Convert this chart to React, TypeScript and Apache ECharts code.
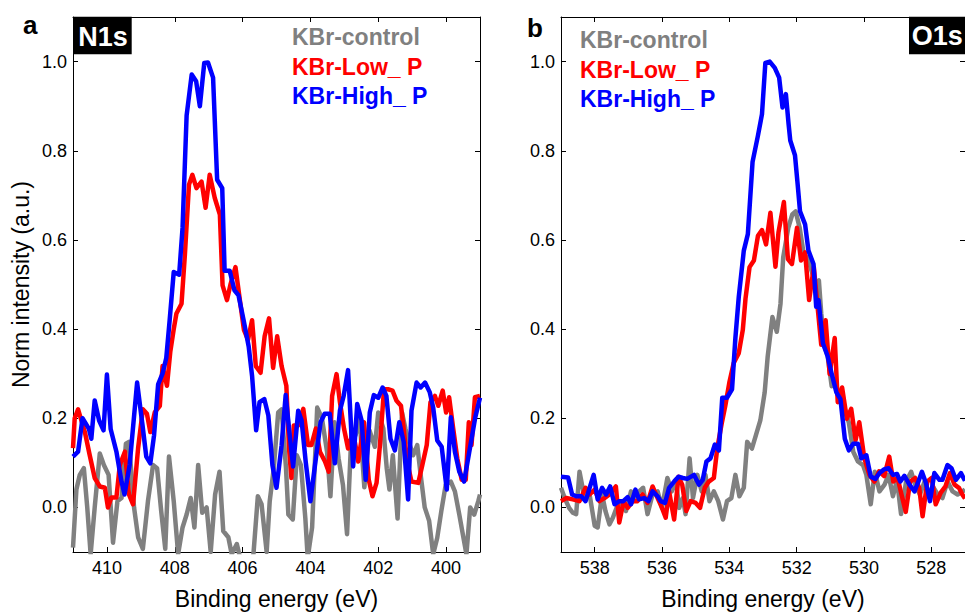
import React, { useEffect, useRef } from "react";
import * as echarts from "echarts";

type Pt = [number, number];

// ---------- N1s panel (binding energy eV, normalised intensity) ----------
const n1sControl: Pt[] = [
  [411.0, -0.09], [410.9, 0.04], [410.8, 0.073], [410.68, 0.088], [410.58, 0.0], [410.48, -0.105],
  [410.36, 0.0], [410.21, 0.121], [410.09, 0.095], [409.95, 0.073], [409.82, -0.079], [409.69, 0.014],
  [409.57, 0.021], [409.44, 0.143], [409.35, 0.147], [409.2, 0.0], [409.08, -0.067], [408.94, -0.093],
  [408.79, 0.014], [408.64, 0.095], [408.52, 0.088], [408.4, -0.008], [408.28, -0.093], [408.17, 0.114],
  [408.03, 0.014], [407.9, -0.105], [407.77, -0.045], [407.65, -0.016], [407.53, 0.021], [407.42, -0.045],
  [407.31, 0.095], [407.19, -0.012], [407.06, 0.0], [406.94, -0.1], [406.81, 0.029], [406.68, 0.08],
  [406.57, -0.053], [406.42, -0.067], [406.32, -0.105], [406.17, -0.082], [406.05, -0.12], [405.9, -0.15],
  [405.8, -0.13], [405.68, -0.105], [405.55, 0.025], [405.44, 0.007], [405.29, -0.1], [405.2, 0.014],
  [405.08, 0.088], [404.95, 0.213], [404.85, 0.22], [404.72, 0.088], [404.65, -0.016], [404.52, -0.027],
  [404.4, 0.117], [404.28, 0.095], [404.15, -0.024], [404.08, -0.113], [403.95, -0.045], [403.8, 0.224],
  [403.66, 0.2], [403.51, 0.125], [403.41, 0.025], [403.29, 0.191], [403.17, 0.11], [403.04, 0.05],
  [402.92, -0.06], [402.79, 0.169], [402.67, 0.162], [402.55, 0.2], [402.41, 0.045], [402.26, 0.173],
  [402.1, 0.136], [402.0, 0.213], [401.85, 0.177], [401.75, 0.088], [401.67, 0.04], [401.57, 0.117],
  [401.43, -0.025], [401.3, 0.213], [401.2, 0.177], [401.07, 0.14], [400.97, 0.117], [400.85, 0.14],
  [400.75, 0.073], [400.63, 0.0], [400.5, -0.03], [400.38, -0.105], [400.26, -0.068], [400.14, -0.008],
  [400.01, 0.051], [399.86, 0.058], [399.74, 0.036], [399.61, -0.016], [399.49, -0.067], [399.4, -0.105],
  [399.29, 0.0], [399.17, -0.016], [399.05, 0.014], [399.0, 0.029],
];

const n1sLow: Pt[] = [
  [411.0, 0.133], [410.95, 0.2], [410.85, 0.22], [410.65, 0.169], [410.51, 0.118], [410.36, 0.066],
  [410.21, 0.047], [410.06, 0.044], [409.97, 0.0], [409.87, 0.022], [409.72, 0.022], [409.62, 0.095],
  [409.47, 0.125], [409.35, 0.029], [409.23, 0.007], [409.08, 0.133], [408.94, 0.22], [408.82, 0.21],
  [408.72, 0.169], [408.59, 0.213], [408.44, 0.228], [408.36, 0.317], [408.23, 0.273], [408.13, 0.35],
  [408.03, 0.4], [407.95, 0.435], [407.8, 0.457], [407.7, 0.568], [407.58, 0.724], [407.48, 0.746],
  [407.36, 0.716], [407.21, 0.731], [407.09, 0.672], [406.97, 0.746], [406.82, 0.694], [406.67, 0.657],
  [406.59, 0.498], [406.46, 0.465], [406.35, 0.502], [406.21, 0.539], [406.08, 0.465], [405.96, 0.398],
  [405.84, 0.376], [405.72, 0.42], [405.61, 0.317], [405.47, 0.302], [405.35, 0.384], [405.22, 0.424],
  [405.1, 0.313], [404.98, 0.384], [404.85, 0.317], [404.71, 0.273], [404.63, 0.132], [404.56, 0.066],
  [404.49, 0.184], [404.36, 0.184], [404.21, 0.221], [404.07, 0.14], [403.97, 0.14], [403.84, 0.177],
  [403.72, 0.125], [403.57, 0.103], [403.46, 0.08], [403.36, 0.25], [403.23, 0.299], [403.13, 0.236],
  [403.01, 0.177], [402.89, 0.132], [402.74, 0.169], [402.59, 0.103], [402.42, 0.191], [402.28, 0.062],
  [402.17, 0.025], [402.05, 0.055], [401.95, 0.14], [401.83, 0.265], [401.71, 0.265], [401.58, 0.262],
  [401.46, 0.239], [401.33, 0.228], [401.26, 0.184], [401.15, 0.103], [401.02, 0.058], [400.82, 0.055],
  [400.7, 0.095], [400.57, 0.14], [400.46, 0.236], [400.33, 0.25], [400.23, 0.228], [400.1, 0.262],
  [400.0, 0.213], [399.91, 0.247], [399.79, 0.177], [399.67, 0.11], [399.54, 0.062], [399.42, 0.062],
  [399.33, 0.191], [399.25, 0.14], [399.15, 0.247], [399.0, 0.25],
];

const n1sHigh: Pt[] = [
  [411.0, 0.114], [410.85, 0.125], [410.72, 0.2], [410.53, 0.176], [410.46, 0.154], [410.36, 0.24],
  [410.23, 0.195], [410.1, 0.173], [410.0, 0.298], [409.89, 0.176], [409.72, 0.125], [409.57, 0.058],
  [409.48, 0.029], [409.33, 0.095], [409.11, 0.28], [408.95, 0.184], [408.84, 0.114], [408.72, 0.099],
  [408.61, 0.162], [408.49, 0.276], [408.36, 0.3], [408.25, 0.335], [408.15, 0.42], [408.03, 0.528],
  [407.87, 0.522], [407.77, 0.627], [407.65, 0.879], [407.5, 0.971], [407.37, 0.956], [407.26, 0.9],
  [407.13, 0.997], [407.02, 0.998], [406.87, 0.964], [406.75, 0.735], [406.6, 0.716], [406.53, 0.531],
  [406.38, 0.531], [406.24, 0.487], [406.12, 0.476], [405.97, 0.42], [405.82, 0.361], [405.72, 0.295],
  [405.6, 0.173], [405.5, 0.236], [405.36, 0.243], [405.24, 0.206], [405.12, 0.095], [405.0, 0.044],
  [404.85, 0.139], [404.73, 0.252], [404.61, 0.162], [404.51, 0.092], [404.36, 0.217], [404.26, 0.195],
  [404.14, 0.103], [404.0, 0.014], [403.84, 0.11], [403.7, 0.191], [403.58, 0.21], [403.43, 0.21],
  [403.28, 0.099], [403.13, 0.217], [403.02, 0.25], [402.89, 0.308], [402.74, 0.092], [402.62, 0.232],
  [402.49, 0.195], [402.37, 0.062], [402.25, 0.213], [402.13, 0.252], [402.0, 0.246], [401.87, 0.269],
  [401.76, 0.25], [401.64, 0.154], [401.51, 0.128], [401.38, 0.191], [401.25, 0.147], [401.12, 0.018],
  [401.02, 0.217], [400.87, 0.28], [400.75, 0.269], [400.62, 0.28], [400.48, 0.258], [400.38, 0.224],
  [400.26, 0.15], [400.13, 0.136], [399.98, 0.04], [399.86, 0.202], [399.74, 0.125], [399.61, 0.08],
  [399.47, 0.058], [399.29, 0.136], [399.14, 0.202], [399.0, 0.246],
];

// ---------- O1s panel ----------
const o1sControl: Pt[] = [
  [539.0, 0.044], [538.89, 0.021], [538.76, -0.001], [538.65, -0.012], [538.55, -0.015], [538.45, 0.08],
  [538.3, 0.021], [538.15, 0.029], [538.0, -0.041], [537.91, -0.045], [537.78, 0.029], [537.68, -0.008],
  [537.56, -0.038], [537.46, -0.023], [537.35, -0.001], [537.22, 0.01], [537.07, -0.008], [536.92, 0.036],
  [536.79, 0.021], [536.68, 0.036], [536.56, 0.044], [536.43, -0.015], [536.28, 0.029], [536.13, 0.036],
  [536.0, -0.001], [535.84, 0.066], [535.71, 0.036], [535.59, 0.062], [535.49, -0.001], [535.38, 0.021],
  [535.3, -0.015], [535.18, 0.11], [535.08, 0.021], [534.95, 0.073], [534.82, 0.036], [534.71, 0.073],
  [534.59, 0.014], [534.46, 0.036], [534.33, 0.014], [534.19, -0.027], [534.07, 0.014], [533.94, 0.021],
  [533.82, 0.073], [533.7, 0.025], [533.57, 0.044], [533.47, 0.147], [533.33, 0.132], [533.21, 0.162],
  [533.08, 0.195], [532.95, 0.258], [532.86, 0.339], [532.72, 0.427], [532.59, 0.394], [532.48, 0.457],
  [532.4, 0.561], [532.25, 0.627], [532.13, 0.657], [532.03, 0.664], [531.91, 0.627], [531.79, 0.568],
  [531.66, 0.557], [531.56, 0.531], [531.44, 0.502], [531.34, 0.509], [531.27, 0.435], [531.17, 0.361],
  [531.08, 0.34], [530.96, 0.272], [530.88, 0.287], [530.77, 0.25], [530.67, 0.24], [530.57, 0.22],
  [530.45, 0.19], [530.32, 0.125], [530.18, 0.103], [530.03, 0.095], [529.93, 0.073], [529.8, 0.007],
  [529.68, 0.08], [529.54, 0.036], [529.39, 0.051], [529.27, 0.073], [529.14, 0.025], [529.02, 0.062],
  [528.9, -0.015], [528.75, 0.058], [528.6, 0.08], [528.48, 0.051], [528.34, 0.029], [528.2, 0.058],
  [528.05, 0.029], [527.93, 0.044], [527.81, 0.029], [527.67, 0.021], [527.52, 0.058], [527.37, 0.036],
  [527.22, 0.029], [527.07, 0.036], [527.0, 0.04],
];

const o1sLow: Pt[] = [
  [539.0, 0.014], [538.84, 0.021], [538.65, 0.018], [538.45, 0.014], [538.27, 0.044], [538.15, 0.029],
  [538.0, 0.04], [537.86, 0.014], [537.71, 0.021], [537.56, 0.029], [537.37, 0.047], [537.27, -0.034],
  [537.14, 0.014], [537.02, -0.001], [536.87, 0.014], [536.73, 0.014], [536.58, 0.029], [536.43, 0.01],
  [536.28, 0.047], [536.13, 0.021], [536.0, -0.001], [535.89, -0.023], [535.79, 0.036], [535.64, -0.027],
  [535.51, 0.069], [535.4, 0.051], [535.28, -0.008], [535.15, 0.014], [535.0, 0.01], [534.87, -0.001],
  [534.73, 0.044], [534.61, 0.058], [534.46, 0.066], [534.36, 0.132], [534.23, 0.187], [534.12, 0.228],
  [534.0, 0.28], [533.87, 0.324], [533.72, 0.346], [533.6, 0.398], [533.52, 0.468], [533.4, 0.539],
  [533.27, 0.554], [533.15, 0.609], [533.03, 0.622], [532.91, 0.59], [532.78, 0.661], [532.63, 0.54],
  [532.54, 0.617], [532.38, 0.685], [532.26, 0.557], [532.14, 0.546], [531.99, 0.627], [531.87, 0.554],
  [531.75, 0.572], [531.63, 0.465], [531.49, 0.539], [531.37, 0.443], [531.27, 0.365], [531.14, 0.42],
  [531.02, 0.299], [530.87, 0.38], [530.78, 0.236], [530.65, 0.269], [530.51, 0.199], [530.38, 0.221],
  [530.25, 0.151], [530.14, 0.191], [529.99, 0.11], [529.84, 0.073], [529.69, 0.058], [529.55, 0.081],
  [529.4, 0.07], [529.25, 0.114], [529.13, 0.058], [529.0, 0.066], [528.89, 0.03], [528.76, -0.01],
  [528.63, 0.058], [528.48, 0.066], [528.36, 0.044], [528.26, -0.02], [528.12, 0.058], [527.99, 0.066],
  [527.87, 0.007], [527.72, 0.033], [527.58, 0.047], [527.45, 0.077], [527.31, 0.051], [527.18, 0.044],
  [527.08, 0.029], [527.0, 0.02],
];

const o1sHigh: Pt[] = [
  [539.0, 0.069], [538.79, 0.067], [538.67, 0.029], [538.55, 0.025], [538.4, 0.025], [538.27, 0.014],
  [538.15, 0.044], [538.03, 0.073], [537.91, 0.018], [537.78, 0.044], [537.66, 0.029], [537.54, 0.047],
  [537.41, 0.007], [537.27, 0.014], [537.15, 0.014], [537.02, 0.023], [536.92, 0.007], [536.79, 0.04],
  [536.68, 0.018], [536.53, 0.021], [536.4, 0.014], [536.28, 0.036], [536.13, 0.025], [536.04, 0.014],
  [535.91, 0.01], [535.79, 0.044], [535.64, 0.058], [535.51, 0.069], [535.38, 0.066], [535.25, 0.064],
  [535.05, 0.073], [534.9, 0.051], [534.79, 0.062], [534.68, 0.103], [534.56, 0.11], [534.43, 0.141],
  [534.31, 0.128], [534.21, 0.246], [534.07, 0.246], [533.92, 0.265], [533.82, 0.38], [533.72, 0.472],
  [533.57, 0.576], [533.45, 0.613], [533.31, 0.775], [533.15, 0.834], [533.03, 0.882], [532.93, 0.997],
  [532.8, 1.0], [532.65, 0.986], [532.52, 0.964], [532.42, 0.897], [532.32, 0.927], [532.24, 0.86],
  [532.19, 0.823], [532.05, 0.79], [531.97, 0.724], [531.9, 0.664], [531.75, 0.635], [531.65, 0.576],
  [531.5, 0.546], [531.42, 0.45], [531.35, 0.465], [531.22, 0.368], [531.08, 0.339], [530.96, 0.3],
  [530.82, 0.258], [530.7, 0.243], [530.57, 0.154], [530.45, 0.128], [530.32, 0.143], [530.18, 0.143],
  [530.08, 0.11], [529.93, 0.117], [529.8, 0.069], [529.66, 0.064], [529.54, 0.077], [529.39, 0.086],
  [529.27, 0.088], [529.14, 0.073], [529.02, 0.075], [528.92, 0.058], [528.8, 0.071], [528.65, 0.051],
  [528.5, 0.036], [528.4, 0.055], [528.28, 0.08], [528.16, 0.055], [528.04, 0.014], [527.91, 0.077],
  [527.76, 0.062], [527.67, 0.062], [527.52, 0.095], [527.4, 0.088], [527.27, 0.062], [527.12, 0.077],
  [527.0, 0.06],
];

const seriesNames = ["KBr-control", "KBr-Low_ P", "KBr-High_ P"];
const seriesColors = ["#808080", "#ff0000", "#0000ff"];
const panelTitles = ["N1s", "O1s"];
const panelLetters = ["a", "b"];
const xRanges: [number, number][] = [[399, 411], [527, 539]];
const yRange: [number, number] = [-0.1, 1.1];
const xTitle = "Binding energy (eV)";
const yTitle = "Norm intensity (a.u.)";

const FONT = '"Liberation Sans", Arial, Helvetica, sans-serif';

const GRIDS = [
  { left: 73, top: 17, width: 407, height: 541 },
  { left: 561, top: 17, width: 407, height: 541 },
];

function buildOption() {
  const axisLine = { show: true, onZero: false, lineStyle: { color: "#000", width: 1 } };
  const axisTick = { show: true, inside: true, length: 5, lineStyle: { color: "#000", width: 1 } };
  const xAxis: any[] = [];
  const yAxis: any[] = [];
  [0, 1].forEach((g) => {
    const [mn, mx] = xRanges[g];
    xAxis.push({
      type: "value", gridIndex: g, position: "bottom", min: mn, max: mx, inverse: true,
      minInterval: 2, maxInterval: 2,
      splitLine: { show: false }, axisLine, axisTick,
      axisLabel: { color: "#000", fontSize: 18, fontFamily: FONT, margin: 7, showMinLabel: false, showMaxLabel: false },
      name: xTitle, nameLocation: "middle", nameGap: 35,
      nameTextStyle: { color: "#000", fontSize: 23, fontFamily: FONT },
    });
    xAxis.push({
      type: "value", gridIndex: g, position: "top", min: mn, max: mx, inverse: true,
      minInterval: 2, maxInterval: 2,
      splitLine: { show: false }, axisLine, axisTick, axisLabel: { show: false },
    });
    yAxis.push({
      type: "value", gridIndex: g, position: "left", min: yRange[0], max: yRange[1],
      minInterval: 0.2, maxInterval: 0.2,
      splitLine: { show: false }, axisLine, axisTick,
      axisLabel: {
        color: "#000", fontSize: 18, fontFamily: FONT, margin: 6, showMinLabel: false, showMaxLabel: false,
        formatter: (v: number) => v.toFixed(1),
      },
      ...(g === 0
        ? { name: yTitle, nameLocation: "middle", nameGap: 41, nameTextStyle: { color: "#000", fontSize: 23, fontFamily: FONT } }
        : {}),
    });
    yAxis.push({
      type: "value", gridIndex: g, position: "right", min: yRange[0], max: yRange[1],
      minInterval: 0.2, maxInterval: 0.2,
      splitLine: { show: false }, axisLine, axisTick, axisLabel: { show: false },
    });
  });

  const panelData = [
    [n1sControl, n1sLow, n1sHigh],
    [o1sControl, o1sLow, o1sHigh],
  ];
  const series: any[] = [];
  panelData.forEach((sets, g) => {
    sets.forEach((d, i) => {
      series.push({
        type: "line", name: seriesNames[i], xAxisIndex: g * 2, yAxisIndex: g * 2, data: d,
        showSymbol: false, symbol: "none", clip: true, z: 2 + i,
        lineStyle: { color: seriesColors[i], width: 4.5, join: "round" },
        itemStyle: { color: seriesColors[i] },
      });
    });
  });

  const legendPos = [
    { x: 292, ys: [36.7, 66.7, 95.7] },
    { x: 580, ys: [40, 70, 99] },
  ];
  const graphic: any[] = [];
  legendPos.forEach((lp) => {
    seriesNames.forEach((n, i) => {
      graphic.push({
        type: "text", x: lp.x, y: lp.ys[i], z: 100,
        style: { text: n, fill: seriesColors[i], fontSize: 23, fontWeight: "bold", fontFamily: FONT, align: "left", verticalAlign: "middle" },
      });
    });
  });
  // title boxes
  graphic.push({ type: "rect", shape: { x: 73.3, y: 16.7, width: 58.4, height: 37.6 }, style: { fill: "#000" }, z: 100 });
  graphic.push({ type: "rect", shape: { x: 909, y: 16.7, width: 60, height: 37.6 }, style: { fill: "#000" }, z: 100 });
  graphic.push({
    type: "text", x: 78.3, y: 36.6, z: 101,
    style: { text: panelTitles[0], fill: "#fff", fontSize: 27, fontWeight: "bold", fontFamily: FONT, align: "left", verticalAlign: "middle" },
  });
  graphic.push({
    type: "text", x: 911.7, y: 35.6, z: 101,
    style: { text: panelTitles[1], fill: "#fff", fontSize: 27, fontWeight: "bold", fontFamily: FONT, align: "left", verticalAlign: "middle" },
  });
  graphic.push({
    type: "text", x: 23, y: 25.3, z: 101,
    style: { text: panelLetters[0], fill: "#000", fontSize: 26, fontWeight: "bold", fontFamily: FONT, align: "left", verticalAlign: "middle" },
  });
  graphic.push({
    type: "text", x: 527, y: 27.7, z: 101,
    style: { text: panelLetters[1], fill: "#000", fontSize: 26, fontWeight: "bold", fontFamily: FONT, align: "left", verticalAlign: "middle" },
  });

  return {
    animation: false,
    backgroundColor: "#fff",
    grid: GRIDS.map((g) => ({ ...g, containLabel: false })),
    xAxis,
    yAxis,
    series,
    graphic,
  };
}

export default function App() {
  const ref = useRef<HTMLDivElement>(null);
  useEffect(() => {
    if (!ref.current) return;
    const chart = echarts.init(ref.current, undefined, { renderer: "svg" });
    chart.setOption(buildOption() as any);
    return () => chart.dispose();
  }, []);
  return (
    <div
      ref={ref}
      style={{ position: "fixed", left: 0, top: 0, width: 965, height: 615, background: "#fff" }}
    />
  );
}
